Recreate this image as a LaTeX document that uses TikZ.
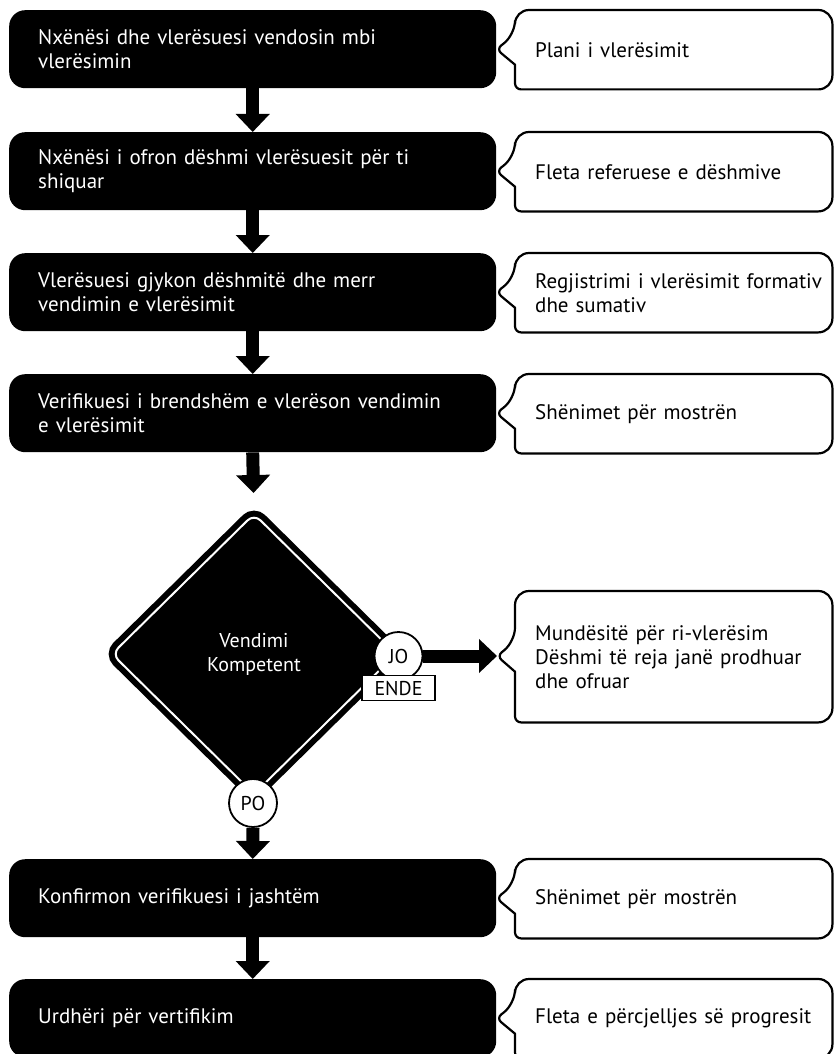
\documentclass[tikz,border=0pt]{standalone}
\usepackage{fontspec}
\setmainfont{PT Sans}
\usetikzlibrary{arrows.meta,shapes.geometric}

\newcommand{\steptext}{\fontsize{21}{24}\selectfont}
\newcommand{\tagtext}{\fontsize{20}{24}\selectfont}
% outline of a note with its pointer at #2
\newcommand{\noteline}[2]{%
  \draw[noteline] (#1.north) [rounded corners=14pt] -- (#1.north west)
    -- ([yshift=15pt]#1.west) [rounded corners=6pt] -- (#2) [sharp corners]
    -- ([yshift=-15pt]#1.west) [rounded corners=6pt] -- (#1.south west)
    [rounded corners=14pt] -- (#1.south east) -- (#1.north east) -- (#1.north);}

\tikzset{
  stepbox/.style={fill=black, text=white, rounded corners=16pt, anchor=north west,
    minimum height=78pt, text width=429pt, inner xsep=29pt, inner ysep=0pt,
    align=left, font=\steptext},
  notebox/.style={anchor=north west, minimum height=79pt, text width=277pt,
    inner xsep=20pt, inner ysep=0pt, align=left, font=\steptext},
  noteline/.style={line width=2.2pt, line join=round},
  flow/.style={line width=13pt, -{Triangle[width=33pt,length=18pt]}},
  tag/.style={circle, draw, fill=white, line width=1.8pt, minimum size=48pt,
    inner sep=0pt, font=\tagtext},
}

\begin{document}
\begin{tikzpicture}[x=1pt,y=-1pt]
  \useasboundingbox (0,0) rectangle (833,1054);

  \node[stepbox] (s1) at (9,10) {Nxënësi dhe vlerësuesi vendosin mbi\\vlerësimin};
  \node[stepbox] (s2) at (9,132) {Nxënësi i ofron dëshmi vlerësuesit për ti\\shiquar};
  \node[stepbox] (s3) at (9,253) {Vlerësuesi gjykon dëshmitë dhe merr\\vendimin e vlerësimit};
  \node[stepbox] (s4) at (9,374) {Verifikuesi i brendshëm e vlerëson vendimin\\e vlerësimit};
  \node[stepbox] (s5) at (9,859) {Konfirmon verifikuesi i jashtëm};
  \node[stepbox] (s6) at (9,979) {Urdhëri për vertifikim};

  \node[notebox] (n1) at (515,10) {Plani i vlerësimit};
  \node[notebox] (n2) at (515,132) {Fleta referuese e dëshmive};
  \node[notebox] (n3) at (515,253) {\mbox{Regjistrimi i vlerësimit formativ}\\dhe sumativ};
  \node[notebox] (n4) at (515,374) {Shënimet për mostrën};
  \node[notebox, minimum height=131pt] (n5) at (515,591)
    {Mundësitë për ri-vlerësim\\Dëshmi të reja janë prodhuar\\dhe ofruar};
  \node[notebox] (n6) at (515,859) {Shënimet për mostrën};
  \node[notebox] (n7) at (515,979) {Fleta e përcjelljes së progresit};
  \coordinate (tip5) at (497,656);

  \noteline{n1}{s1.east}
  \noteline{n2}{s2.east}
  \noteline{n3}{s3.east}
  \noteline{n4}{s4.east}
  \noteline{n5}{tip5}
  \noteline{n6}{s5.east}
  \noteline{n7}{s6.east}

  % decision
  \node[diamond, fill=black, draw=black, double=white, double distance=2pt,
    line width=6pt, rounded corners=9pt, outer sep=0pt, inner sep=0pt,
    minimum width=284pt, minimum height=280pt, text=white, align=center,
    font=\tagtext] (dec) at (254,654) {Vendimi\\Kompetent};

  \draw[flow] (s1.south) -- (s2.north);
  \draw[flow] (s2.south) -- (s3.north);
  \draw[flow] (s3.south) -- (s4.north);
  \draw[flow, shorten >=21pt] (s4.south) -- (dec.north);
  \draw[flow] (s5.south) -- (s6.north);

  \node[tag] (jo) at (398.5,656) {JO};
  \node[draw, fill=white, line width=1.8pt, minimum width=73pt, minimum height=25pt,
    inner sep=0pt, font=\tagtext] (ende) at (398.5,688) {ENDE};
  \node[tag] (po) at (253,803) {PO};

  \draw[flow] (jo.east) -- (tip5);
  \draw[flow] (po.south) -- (s5.north);
\end{tikzpicture}
\end{document}
